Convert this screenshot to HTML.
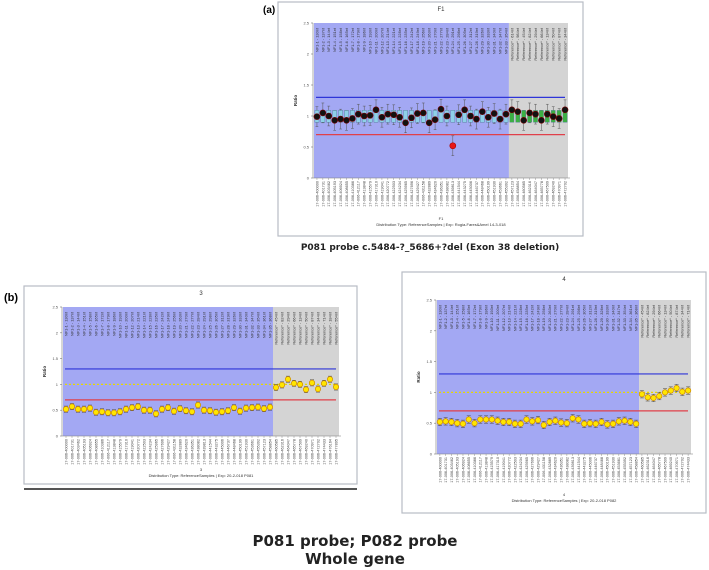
<!DOCTYPE html>
<html><head><meta charset="utf-8">
<style>
html,body{margin:0;padding:0;background:#fff;}
svg{display:block;font-family:"Liberation Sans",sans-serif;}
</style></head>
<body>
<svg id="fig" width="709" height="570" viewBox="0 0 709 570">
  <text x="263" y="13" font-size="10" font-weight="bold">(a)</text>
  <text x="4" y="301" font-size="11" font-weight="bold">(b)</text>
  <text x="430" y="250" font-size="9" font-weight="bold" text-anchor="middle" fill="#222" font-family="DejaVu Sans, sans-serif">P081 probe c.5484-?_5686+?del (Exon 38 deletion)</text>
  <text x="355" y="546" font-size="15" font-weight="bold" text-anchor="middle" fill="#222" font-family="DejaVu Sans, sans-serif">P081 probe; P082 probe</text>
  <text x="355" y="564" font-size="15" font-weight="bold" text-anchor="middle" fill="#222" font-family="DejaVu Sans, sans-serif">Whole gene</text>
  <rect x="24" y="488" width="333" height="2" fill="#555"/>
</svg>
<script>
// Panel a (F1) data
const aProbeValues = [0.99,1.05,1.0,0.93,0.95,0.93,0.96,1.03,1.0,1.01,1.1,0.98,1.03,1.02,0.98,0.89,0.97,1.04,1.05,0.89,0.94,1.11,1.0,0.52,1.02,1.1,1.0,0.95,1.07,0.98,1.04,0.95,1.03];
const aRefValues = [1.1,1.07,0.93,1.05,1.03,0.93,1.03,0.99,0.96,1.1];
const aOutlierIndex = 23;
// Panel b-left (3) data
const bProbeValues = [0.52,0.57,0.52,0.52,0.54,0.46,0.47,0.45,0.45,0.47,0.52,0.55,0.57,0.5,0.5,0.43,0.52,0.55,0.48,0.53,0.49,0.47,0.6,0.5,0.49,0.46,0.47,0.49,0.55,0.48,0.54,0.55,0.56,0.53,0.56];
const bRefValues = [0.94,0.99,1.1,1.02,1.0,0.9,1.03,0.91,1.02,1.1,0.95];
// Panel c-right (4) data
const cProbeValues = [0.52,0.53,0.52,0.5,0.49,0.56,0.5,0.56,0.56,0.56,0.54,0.52,0.52,0.49,0.49,0.56,0.53,0.55,0.47,0.52,0.54,0.51,0.5,0.58,0.56,0.49,0.5,0.49,0.52,0.48,0.49,0.53,0.54,0.52,0.49];
const cRefValues = [0.97,0.92,0.91,0.94,1.0,1.03,1.07,1.01,1.03];
const yTicks = [0,0.5,1,1.5,2,2.5];
const upperLimit = 1.3, lowerLimit = 0.7, refLine = 1.0;

const NS = "http://www.w3.org/2000/svg";
const svg = document.getElementById('fig');
function mk(tag, attrs, parent){
  const e = document.createElementNS(NS, tag);
  for (const k in attrs) e.setAttribute(k, attrs[k]);
  (parent||svg).appendChild(e);
  return e;
}

function panel(p){
  const g = mk('g', {});
  
  
  const fr = mk('rect', {x:p.fx, y:p.fy, width:p.fw, height:p.fh, fill:'#fff', stroke:'#b8bcc4', 'stroke-width':1.2}, g);
  
  
  const n = p.probes.length + p.refs.length;
  const step = (p.x1 - p.x0) / n;
  const xb = p.x0 + step * p.probes.length;
  const y = v => p.yb - (v / 2.5) * (p.yb - p.yt);
  const bg1 = mk('rect', {x:p.x0, y:p.yt, width:xb-p.x0, height:p.yb-p.yt, fill:'#a3a8f3'}, g);
  
  
  const bg2 = mk('rect', {x:xb, y:p.yt, width:p.x1-xb, height:p.yb-p.yt, fill:'#d4d4d4'}, g);
  
  
  const t = mk('text', {x:(p.x0+p.x1)/2, y:p.fy+9, 'font-size':6, 'text-anchor':'middle', fill:'#333'}, g);
  t.textContent = p.title;
  
  
  mk('line', {x1:p.x0-1, y1:p.yt, x2:p.x0-1, y2:p.yb, stroke:'#777', 'stroke-width':0.6}, g);
  mk('line', {x1:p.x0-1, y1:p.yb, x2:p.x1+2, y2:p.yb, stroke:'#777', 'stroke-width':0.6}, g);
  yTicks.forEach(v => {
    mk('line', {x1:p.x0-3, y1:y(v), x2:p.x0-1, y2:y(v), stroke:'#777', 'stroke-width':0.6}, g);
    const tl = mk('text', {x:p.x0-5, y:y(v)+1.5, 'font-size':4, 'text-anchor':'end', fill:'#555'}, g);
    tl.textContent = String(v);
    
    
  });
  const yl = mk('text', {x:p.x0-17, y:(p.yt+p.yb)/2, 'font-size':4.5, 'font-weight':'bold', 'text-anchor':'middle', fill:'#333', transform:`rotate(-90 ${p.x0-17} ${(p.yt+p.yb)/2})`}, g);
  yl.textContent = 'Ratio';
  
  
  const ul = mk('line', {x1:p.x0+2, y1:y(upperLimit), x2:p.x1-3, y2:y(upperLimit), stroke:'#2e35d8', 'stroke-width':1.2}, g);
  
  
  const ll = mk('line', {x1:p.x0+2, y1:y(lowerLimit), x2:p.x1-3, y2:y(lowerLimit), stroke:'#e0404a', 'stroke-width':1.2}, g);
  
  
  if (p.dashed){
    const rl = mk('line', {x1:p.x0+2, y1:y(refLine), x2:p.x1-3, y2:y(refLine), stroke:'#e8d800', 'stroke-width':1.2, 'stroke-dasharray':'2 2'}, g);
    
    
  }
  const all = p.probes.concat(p.refs);
  const topStart = p.yt + 5;
  all.forEach((v, i) => {
    const cx = p.x0 + step * (i + 0.5);
    const isRef = i >= p.probes.length;
    const top = mk('text', {x:cx+1.4, y:topStart, 'font-size':3.9, fill:'#333', transform:`rotate(-90 ${cx+1.4} ${topStart})`, 'text-anchor':'end'}, g);
    top.textContent = isRef ? ('Reference* - ' + (i*37%90+10) + '4nt') : ('NF1-' + (i+1) + ' - ' + (130 + i*7) + 'nt');
    
    
    const bot = mk('text', {x:cx+1.4, y:p.yb+3, 'font-size':3.8, fill:'#444', transform:`rotate(-90 ${cx+1.4} ${p.yb+3})`, 'text-anchor':'end'}, g);
    bot.textContent = '17-006-' + (400000 + i*1731);
    
    
    mk('line', {x1:cx, y1:p.yb, x2:cx, y2:p.yb+2, stroke:'#777', 'stroke-width':0.4}, g);
    if (p.box){
      const bw = step*0.7;
      mk('line', {x1:cx, y1:y(v+0.16), x2:cx, y2:y(v-0.16), stroke:'#555', 'stroke-width':0.5}, g);
      mk('line', {x1:cx-bw/3, y1:y(v+0.16), x2:cx+bw/3, y2:y(v+0.16), stroke:'#555', 'stroke-width':0.5}, g);
      mk('line', {x1:cx-bw/3, y1:y(v-0.16), x2:cx+bw/3, y2:y(v-0.16), stroke:'#555', 'stroke-width':0.5}, g);
      const bx = mk('rect', {x:cx-bw/2, y:y(1.09), width:bw, height:y(0.9)-y(1.09), fill:isRef?'#3cb043':'#8fd0e8', stroke:'#4a7a90', 'stroke-width':0.4}, g);
      
      
      const out = i === p.outlier;
      if (out){
        mk('line', {x1:cx, y1:y(v+0.07), x2:cx, y2:y(v-0.07), stroke:'#555', 'stroke-width':0.5}, g);
      }
      const d = mk('circle', {cx:cx, cy:y(v), r:3, fill:out?'#e81818':'#111', stroke:out?'#a00':'#7a0000', 'stroke-width':0.6}, g);
      
      
    } else {
      mk('line', {x1:cx, y1:y(v+0.06), x2:cx, y2:y(v-0.06), stroke:'#444', 'stroke-width':0.5}, g);
      mk('line', {x1:cx-2, y1:y(v+0.06), x2:cx+2, y2:y(v+0.06), stroke:'#444', 'stroke-width':0.5}, g);
      mk('line', {x1:cx-2, y1:y(v-0.06), x2:cx+2, y2:y(v-0.06), stroke:'#444', 'stroke-width':0.5}, g);
      const d = mk('circle', {cx:cx, cy:y(v), r:2.7, fill:'#ffe600', stroke:'#d08a00', 'stroke-width':0.7}, g);
      
      
    }
  });
  const xt = mk('text', {x:(p.x0+p.x1)/2, y:p.lblY, 'font-size':4, 'text-anchor':'middle', fill:'#333'}, g);
  xt.textContent = p.title;
  
  
  const dt = mk('text', {x:(p.x0+p.x1)/2, y:p.lblY+6, 'font-size':4, 'text-anchor':'middle', fill:'#333'}, g);
  dt.textContent = p.dist;
  
  
}

panel({name:'panel-a-chart', title:'F1', fx:278, fy:2, fw:305, fh:234, x0:314, x1:568, yt:23, yb:178,
  probes:aProbeValues, refs:aRefValues, box:true, outlier:aOutlierIndex, dashed:false, lblY:220,
  dist:'Distribution Type: ReferenceSamples | Exp: Rogia-Fares&Amel 14-3-018'});
panel({name:'panel-b-left-chart', title:'3', fx:24, fy:286, fw:333, fh:198, x0:63, x1:339, yt:307, yb:436,
  probes:bProbeValues, refs:bRefValues, box:false, dashed:true, lblY:471,
  dist:'Distribution Type: ReferenceSamples | Exp: 20-2-018 P081'});
panel({name:'panel-b-right-chart', title:'4', fx:402, fy:272, fw:304, fh:241, x0:437, x1:691, yt:300, yb:454,
  probes:cProbeValues, refs:cRefValues, box:false, dashed:true, lblY:496,
  dist:'Distribution Type: ReferenceSamples | Exp: 20-2-018 P082'});
</script>
</body></html>
